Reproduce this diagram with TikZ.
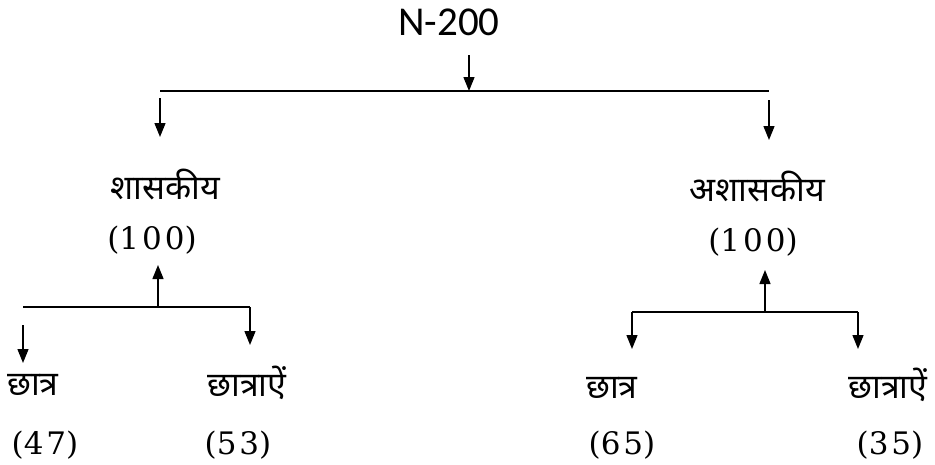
\documentclass[tikz,border=0pt]{standalone}
\usepackage{fontspec}
\newfontfamily\devfont[Script=Devanagari]{Noto Sans}
\newfontfamily\titlefont{Carlito}
\newfontfamily\numfont{DejaVu Serif}
\usetikzlibrary{arrows.meta}
\newcommand{\dg}{\hspace{3pt}}
\tikzset{
  ln/.style={line width=1.4pt},
  arr/.style={line width=1.4pt,-{Triangle[width=11pt,length=14pt]}},
  hi/.style={font=\devfont\fontsize{34}{36}\selectfont, inner sep=0pt},
  num/.style={font=\numfont\fontsize{31}{34}\selectfont, inner sep=0pt},
  ttl/.style={font=\titlefont\fontsize{41}{44}\selectfont, inner sep=0pt}
}
\begin{document}
\begin{tikzpicture}[x=1pt,y=-1pt]
\useasboundingbox (0,0) rectangle (935,464);
\node[ttl] (n200) at (449,22) {N-200};
\node[hi] (gov) at (165,185) {शासकीय};
\node[num] (g100) at (152,240) {(1\dg0\dg0)};
\node[hi] (ngov) at (757,187) {अशासकीय};
\node[num] (n100) at (753,242) {(1\dg0\dg0)};
\node[hi] (c1) at (33,385) {छात्र};
\node[hi] (c2) at (247,383) {छात्राऐं};
\node[hi] (c3) at (612,388) {छात्र};
\node[hi] (c4) at (888,385) {छात्राऐं};
\node[num] (v1) at (45,445) {(4\dg7)};
\node[num] (v2) at (238,445) {(5\dg3)};
\node[num] (v3) at (622,445) {(6\dg5)};
\node[num] (v4) at (890,445) {(3\dg5)};
% top split
\coordinate (a0) at (469,55);
\coordinate (topj) at (469,91);
\coordinate (tl) at (160,91);
\coordinate (tr) at (769,91);
\coordinate (tl1) at (160,98);
\coordinate (tl2) at (160,137);
\coordinate (tr1) at (769,100);
\coordinate (tr2) at (769,140);
\draw[ln] (tl) -- (tr);
\draw[arr] (a0) -- (topj);
\draw[arr] (tl1) -- (tl2);
\draw[arr] (tr1) -- (tr2);
% left lower split
\coordinate (lj) at (158,307);
\coordinate (lu) at (158,265);
\coordinate (ll) at (23,307);
\coordinate (lr) at (250,307);
\coordinate (ll1) at (23,325);
\coordinate (ll2) at (23,363);
\coordinate (lr2) at (250,345);
\draw[ln] (ll) -- (lr);
\draw[arr] (lj) -- (lu);
\draw[arr] (ll1) -- (ll2);
\draw[arr] (lr) -- (lr2);
% right lower split
\coordinate (rj) at (765,312);
\coordinate (ru) at (765,270);
\coordinate (rl) at (632,312);
\coordinate (rr) at (858,312);
\coordinate (rl2) at (632,349);
\coordinate (rr2) at (858,349);
\draw[ln] (rl) -- (rr);
\draw[arr] (rj) -- (ru);
\draw[arr] (rl) -- (rl2);
\draw[arr] (rr) -- (rr2);
\end{tikzpicture}
\end{document}
